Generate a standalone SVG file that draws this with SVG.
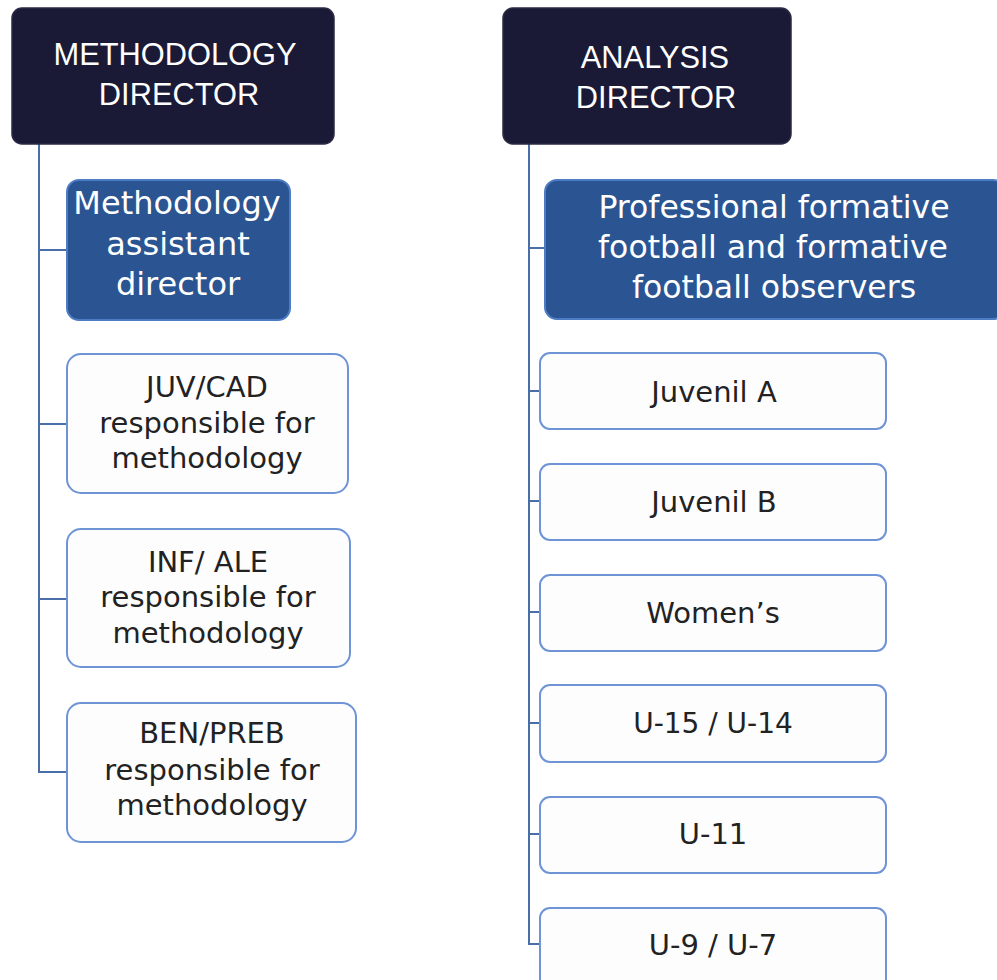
<svg xmlns="http://www.w3.org/2000/svg" width="997" height="980" viewBox="0 0 997 980">
<style>
.dir{fill:#1a1a36;stroke:#2a2a45;stroke-width:1.5}
.blue{fill:#2b5592;stroke:#4d7cc4;stroke-width:2}
.wb{fill:#fdfdfe;stroke:#6f94d6;stroke-width:2}
.th{fill:#ffffff;font-family:"Liberation Sans",Arial,sans-serif;text-anchor:middle;font-size:30.8px}
.tw{fill:#ffffff;font-family:"DejaVu Sans",sans-serif;text-anchor:middle}
.td{fill:#222222;font-family:"DejaVu Sans",sans-serif;text-anchor:middle}
.c{fill:none;stroke:#4a6ea8;stroke-width:2}
</style>
<g id="connectors">
<path class="c" d="M39 144 V772 H67 M39 250 H67 M39 424 H67 M39 599 H67"/>
<path class="c" d="M529 144 V944 H541 M529 248 H545 M529 391 H541 M529 501 H541 M529 612 H541 M529 723 H541 M529 834 H541"/>
</g>
<g id="methodology-director">
<rect class="dir" x="12" y="8" width="322" height="136" rx="10"/>
<text class="th" x="175" y="65">METHODOLOGY</text>
<text class="th" x="179" y="105">DIRECTOR</text>
</g>
<g id="methodology-assistant">
<rect class="blue" x="67" y="180" width="223" height="140" rx="12"/>
<text class="tw" font-size="32" x="177" y="214">Methodology</text>
<text class="tw" font-size="32" x="178" y="255">assistant</text>
<text class="tw" font-size="32" x="178" y="295">director</text>
</g>
<g id="juv-cad">
<rect class="wb" x="67" y="354" width="281" height="139" rx="14"/>
<text class="td" font-size="29" x="207" y="397">JUV/CAD</text>
<text class="td" font-size="29" x="207" y="433">responsible for</text>
<text class="td" font-size="29" x="207" y="468">methodology</text>
</g>
<g id="inf-ale">
<rect class="wb" x="67" y="529" width="283" height="138" rx="14"/>
<text class="td" font-size="29" x="208" y="572">INF/ ALE</text>
<text class="td" font-size="29" x="208" y="607">responsible for</text>
<text class="td" font-size="29" x="208" y="643">methodology</text>
</g>
<g id="ben-preb">
<rect class="wb" x="67" y="703" width="289" height="139" rx="14"/>
<text class="td" font-size="29" x="212" y="743">BEN/PREB</text>
<text class="td" font-size="29" x="212" y="780">responsible for</text>
<text class="td" font-size="29" x="212" y="815">methodology</text>
</g>
<g id="analysis-director">
<rect class="dir" x="503" y="8" width="288" height="136" rx="10"/>
<text class="th" x="655" y="68">ANALYSIS</text>
<text class="th" x="656" y="108">DIRECTOR</text>
</g>
<g id="observers">
<rect class="blue" x="545" y="180" width="460" height="139" rx="12"/>
<text class="tw" font-size="31.5" x="774" y="218">Professional formative</text>
<text class="tw" font-size="31.5" x="773" y="258">football and formative</text>
<text class="tw" font-size="31.5" x="774" y="298">football observers</text>
</g>
<g id="juvenil-a">
<rect class="wb" x="540" y="353" width="346" height="76" rx="10"/>
<text class="td" font-size="29" x="714" y="402">Juvenil A</text>
</g>
<g id="juvenil-b">
<rect class="wb" x="540" y="464" width="346" height="76" rx="10"/>
<text class="td" font-size="29" x="714" y="512">Juvenil B</text>
</g>
<g id="womens">
<rect class="wb" x="540" y="575" width="346" height="76" rx="10"/>
<text class="td" font-size="29" x="713" y="623">Women’s</text>
</g>
<g id="u15-u14">
<rect class="wb" x="540" y="685" width="346" height="77" rx="10"/>
<text class="td" font-size="28" x="713" y="733">U-15 / U-14</text>
</g>
<g id="u11">
<rect class="wb" x="540" y="797" width="346" height="76" rx="10"/>
<text class="td" font-size="29" x="713" y="844">U-11</text>
</g>
<g id="u9-u7">
<rect class="wb" x="540" y="908" width="346" height="90" rx="10"/>
<text class="td" font-size="29" x="713" y="955">U-9 / U-7</text>
</g>
</svg>
